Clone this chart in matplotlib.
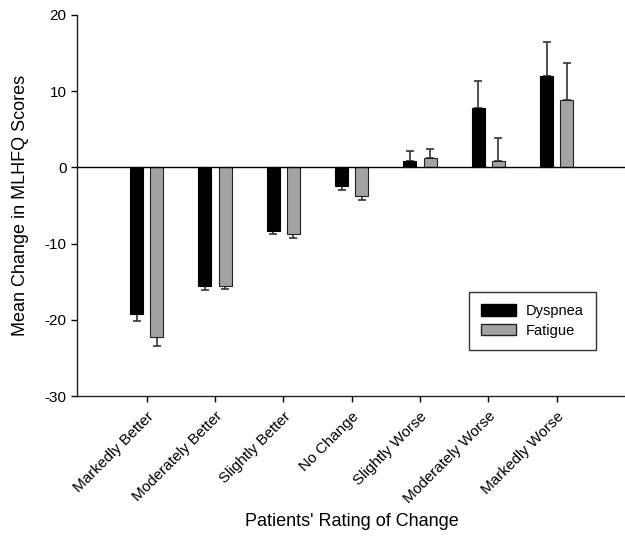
import numpy as np
import matplotlib.pyplot as plt
from matplotlib.patches import Patch

plt.rcParams['font.family'] = ['Liberation Sans', 'DejaVu Sans']
plt.rcParams['axes.unicode_minus'] = False

# ── data ──────────────────────────────────────────────────────────────────────
categories = ["Markedly Better", "Moderately Better", "Slightly Better", "No Change",
              "Slightly Worse", "Moderately Worse", "Markedly Worse"]
dyspnea = [-19.3, -15.6, -8.35, -2.5, 0.9, 7.8, 12.0]
dyspnea_err = [0.9, 0.5, 0.45, 0.45, 1.3, 3.5, 4.5]
fatigue = [-22.3, -15.5, -8.8, -3.8, 1.2, 0.9, 8.9]
fatigue_err = [1.1, 0.5, 0.45, 0.45, 1.2, 2.9, 4.8]
yticks = [-30, -20, -10, 0, 10, 20]

# ── figure ────────────────────────────────────────────────────────────────────
fig = plt.figure(figsize=(6.25, 5.43), dpi=100)
ax = fig.add_axes([0.1232, 0.2707, 0.8768, 0.7017])

x = np.arange(len(categories))
w = 0.19
off = 0.147
black = "#000000"
gray = "#a3a3a3"
errc = "#333333"

ax.bar(x - off, dyspnea, w, color=black, edgecolor="black", lw=0.8, zorder=2)
ax.bar(x + off, fatigue, w, color=gray, edgecolor="#222222", lw=0.8, zorder=2)

# one-sided error bars pointing away from zero
def one_sided(vals, errs):
    lo = [e if v < 0 else 0 for v, e in zip(vals, errs)]
    hi = [e if v >= 0 else 0 for v, e in zip(vals, errs)]
    return [lo, hi]

ax.errorbar(x - off, dyspnea, yerr=one_sided(dyspnea, dyspnea_err), fmt="none",
            ecolor=errc, elinewidth=1.2, capsize=2.7, capthick=1.2, zorder=1)
ax.errorbar(x + off, fatigue, yerr=one_sided(fatigue, fatigue_err), fmt="none",
            ecolor=errc, elinewidth=1.2, capsize=2.7, capthick=1.2, zorder=1)

ax.axhline(0, color="black", lw=1.0, zorder=3)

ax.set_xlim(-1.02, 7.0)
ax.set_ylim(-30, 20)
ax.set_yticks(yticks)
ax.set_xticks(x)
ax.set_xticklabels(categories, rotation=45, ha="right", rotation_mode="anchor", fontsize=11)
ax.tick_params(axis="y", labelsize=11, direction="out", length=4.5, width=1, pad=3)
ax.tick_params(axis="x", direction="out", length=4.5, width=1, pad=5)
ax.spines["top"].set_visible(False)
ax.spines["right"].set_visible(False)
for s in ("left", "bottom"):
    ax.spines[s].set_linewidth(1.0)
    ax.spines[s].set_color("#222222")

ax.set_ylabel("Mean Change in MLHFQ Scores", fontsize=13)
ax.yaxis.set_label_coords(-0.087, 0.5)
fig.text(352 / 625, 1 - 522 / 543, "Patients' Rating of Change", fontsize=13,
         ha="center", va="center")

handles = [Patch(facecolor=black, edgecolor="black", label="Dyspnea"),
           Patch(facecolor=gray, edgecolor="#222222", label="Fatigue")]
leg = ax.legend(handles=handles, loc="upper left", bbox_to_anchor=(0.716, 0.272),
                fontsize=10.5, frameon=True, fancybox=False, edgecolor="black",
                borderpad=0.8, handlelength=2.4, handleheight=0.8, handletextpad=0.7,
                labelspacing=0.4, borderaxespad=0)
leg.get_frame().set_linewidth(1.0)

fig.savefig("out.png", dpi=100)
